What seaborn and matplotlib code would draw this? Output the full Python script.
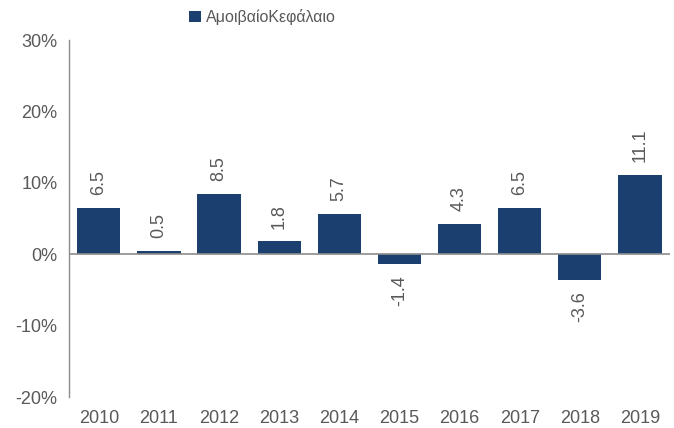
import matplotlib

matplotlib.use("Agg")
import matplotlib.pyplot as plt
import pandas as pd
import seaborn as sns

YEARS = ["2010", "2011", "2012", "2013", "2014", "2015", "2016", "2017", "2018", "2019"]
RETURNS = [6.5, 0.5, 8.5, 1.8, 5.7, -1.4, 4.3, 6.5, -3.6, 11.1]
SERIES = "ΑμοιβαίοΚεφάλαιο"

BAR = "#1b3f6f"
GREY = "#595959"
AXIS = "#8c8c8c"

sns.set_theme(style="white")
plt.rcParams["font.family"] = ["Liberation Sans", "DejaVu Sans"]

df = pd.DataFrame({"year": YEARS, "value": RETURNS, "series": SERIES})

fig = plt.figure(figsize=(6.74, 4.28), dpi=100)
ax = fig.add_axes([0.102, 0.0724, 0.892, 0.834])

sns.barplot(data=df, x="year", y="value", hue="series", palette=[BAR],
            width=0.72, saturation=1, linewidth=0, ax=ax)

ax.set_ylim(-20, 30)
ax.set_yticks([-20, -10, 0, 10, 20, 30])
ax.set_yticklabels([f"{t}%" for t in [-20, -10, 0, 10, 20, 30]])
ax.set_xlabel("")
ax.set_ylabel("")
ax.tick_params(axis="both", length=0, colors=GREY, labelsize=13)
ax.tick_params(axis="y", pad=8)
ax.tick_params(axis="x", pad=9)
for s in ("top", "right", "bottom"):
    ax.spines[s].set_visible(False)
ax.spines["left"].set_color(AXIS)
ax.spines["left"].set_linewidth(1)
ax.axhline(0, color=AXIS, lw=1.2, zorder=3)
ax.set_xlim(-0.5, len(YEARS) - 0.5)

for i, v in enumerate(RETURNS):
    if v >= 0:
        ax.annotate(f"{v}", (i, v), xytext=(0, 9), textcoords="offset points",
                    rotation=90, ha="center", va="bottom", color=GREY, fontsize=13)
    else:
        ax.annotate(f"{v}", (i, v), xytext=(0, -8), textcoords="offset points",
                    rotation=90, ha="center", va="top", color=GREY, fontsize=13)

leg = ax.legend(loc="upper left", bbox_to_anchor=(0.19, 1.105), frameon=False,
                handlelength=0.75, handleheight=0.75, handletextpad=0.3,
                fontsize=11.5, borderaxespad=0)
for t in leg.get_texts():
    t.set_color(GREY)

fig.savefig("out.png", dpi=100)
